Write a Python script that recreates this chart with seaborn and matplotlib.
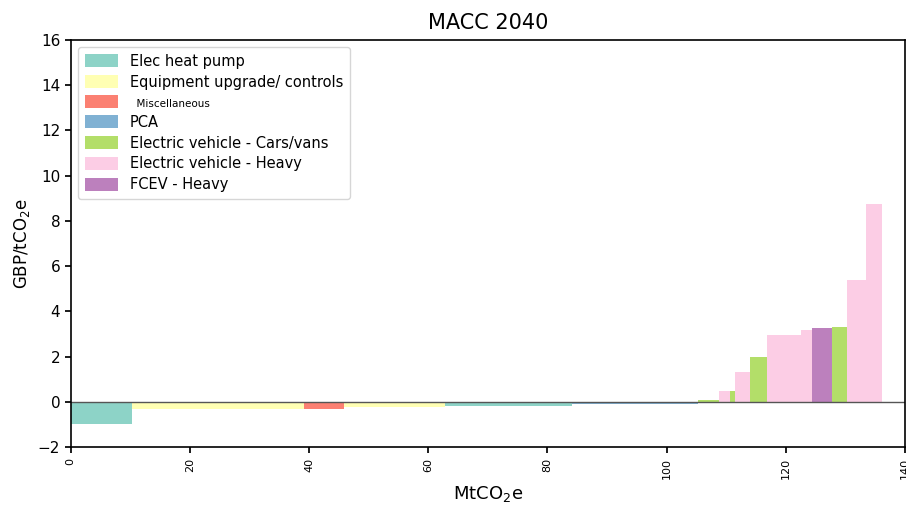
import numpy as np
import matplotlib
matplotlib.use("Agg")
import matplotlib.pyplot as plt
import seaborn as sns
from matplotlib.patches import Patch

categories = ["Elec heat pump", "Equipment upgrade/ controls", "Miscellaneous", "PCA",
              "Electric vehicle - Cars/vans", "Electric vehicle - Heavy", "FCEV - Heavy"]
colors = ["#8dd3c7", "#ffffb3", "#fb8072", "#80b1d3", "#b3de69", "#fccde5", "#bc80bd"]

bar_category = [0, 1, 2, 1, 0, 3, 4, 5, 4, 5, 4, 5, 5, 6, 4, 5, 5]
bar_width = [10.25, 28.85, 6.8, 16.9, 21.3, 21.2, 3.4, 1.9, 0.9, 2.4, 3.0, 5.7, 1.7, 3.4, 2.6, 3.1, 2.8]
bar_cost = [-0.97, -0.3, -0.3, -0.22, -0.19, -0.1, 0.1, 0.47, 0.5, 1.31, 2.0, 2.96, 3.17, 3.27, 3.3, 5.37, 8.73]

sns.set_theme(style="ticks")
plt.rcParams['font.family'] = ['DejaVu Sans']
plt.rcParams['text.color'] = 'black'
plt.rcParams['axes.labelcolor'] = 'black'
plt.rcParams['xtick.color'] = 'black'
plt.rcParams['ytick.color'] = 'black'

fig = plt.figure(figsize=(9.06, 5.11), dpi=100)
ax = fig.add_axes([0.078, 0.125, 0.921, 0.797])

starts = np.concatenate([[0], np.cumsum(bar_width)[:-1]])
for s, w, h, c in zip(starts, bar_width, bar_cost, bar_category):
    ax.bar(s, h, width=w, align="edge", color=colors[c], linewidth=0)

ax.axhline(0, color="#555555", lw=1)
ax.set_xlim(0, 140)
ax.set_ylim(-2, 16)
ax.set_xticks(np.arange(0, 141, 20))
ax.set_yticks(np.arange(-2, 17, 2))
ax.tick_params(axis="x", labelrotation=90, labelsize=8, length=4)
ax.tick_params(axis="y", labelsize=11, length=4)
for sp in ax.spines.values():
    sp.set_color("black")
    sp.set_linewidth(1.2)
ax.set_title("MACC 2040", fontsize=15, pad=8)
ax.set_xlabel("MtCO$_2$e", fontsize=13)
ax.set_ylabel("GBP/tCO$_2$e", fontsize=12)

handles = [Patch(facecolor=col, edgecolor="none") for col in colors]
labels = list(categories)
labels[2] = "  Miscellaneous"
leg = ax.legend(handles, labels, loc="upper left", fontsize=10.5, frameon=True,
                handlelength=2.3, handleheight=1.0, borderpad=0.45, labelspacing=0.4)
leg.get_texts()[2].set_fontsize(7.5)

fig.savefig("out.png", dpi=100)
